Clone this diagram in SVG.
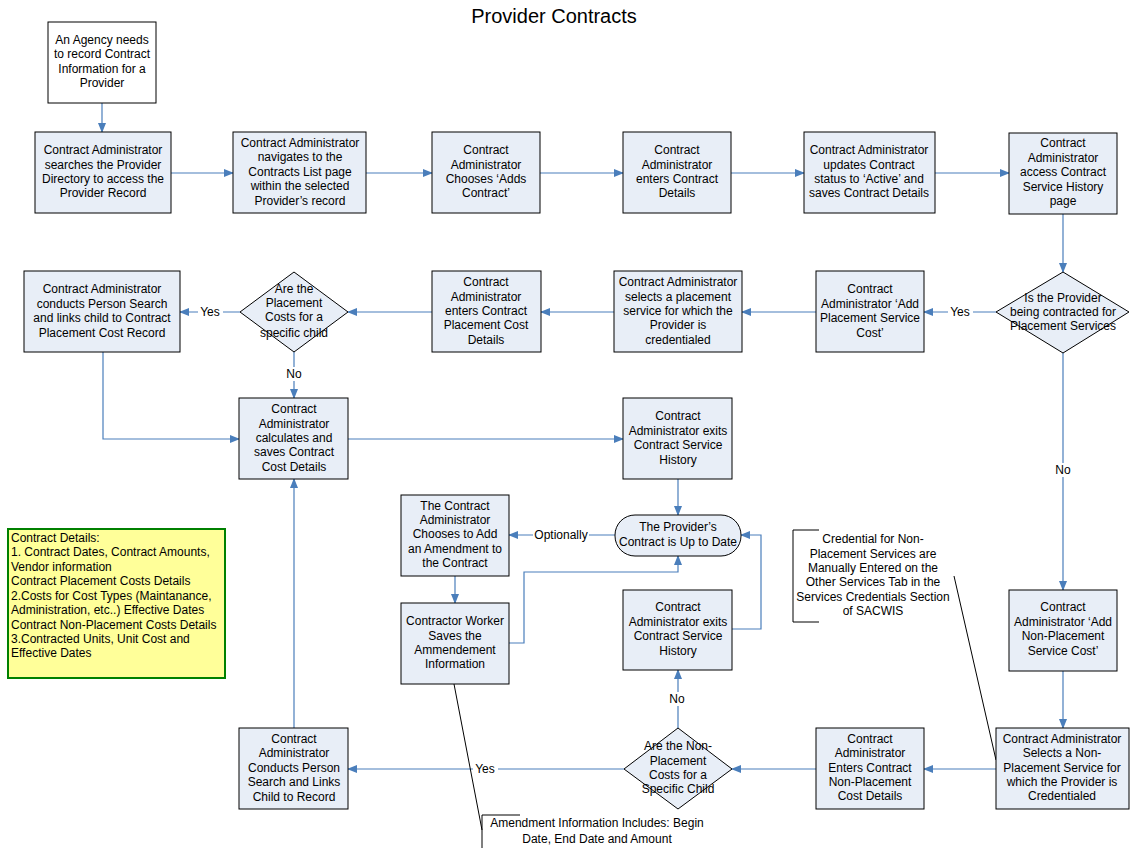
<svg xmlns="http://www.w3.org/2000/svg" width="1130" height="848" viewBox="0 0 1130 848">
  <style>
    .box { fill: #E8EEF7; stroke: #000; stroke-width: 1; }
    .start { fill: #fff; stroke: #000; stroke-width: 1; }
    .t { font-family: "Liberation Sans", Arial, sans-serif; font-size: 12px; fill: #000; text-anchor: middle; }
    .tl { font-family: "Liberation Sans", Arial, sans-serif; font-size: 12px; fill: #000; }
    .title { font-family: "Liberation Sans", Arial, sans-serif; font-size: 20px; fill: #000; text-anchor: middle; }
    .c { fill: none; stroke: #4A7EBB; stroke-width: 1.2; marker-end: url(#arr); }
    .cn { fill: none; stroke: #4A7EBB; stroke-width: 1.2; }
    .note { fill: none; stroke: #000; stroke-width: 1; }
    .lbg { fill: #fff; }
  </style>
  <defs>
    <marker id="arr" markerWidth="10" markerHeight="8" refX="9" refY="4" orient="auto" markerUnits="userSpaceOnUse">
      <path d="M0,0 L10,4 L0,8 Z" fill="#4A7EBB"/>
    </marker>
  </defs>

  <rect width="1130" height="848" fill="#fff"/>
  <text class="title" x="554" y="23">Provider Contracts</text>

  <!-- connectors -->
  <g id="connectors">
    <path class="c" d="M102,103 V132"/>
    <path class="c" d="M171,173 H233"/>
    <path class="c" d="M366,173 H432"/>
    <path class="c" d="M540,173 H623"/>
    <path class="c" d="M731,173 H804"/>
    <path class="c" d="M935,173 H1009"/>
    <path class="c" d="M1063,214 V272"/>
    <path class="c" d="M996,312 H924"/>
    <path class="c" d="M816,312 H742"/>
    <path class="c" d="M614,312 H541"/>
    <path class="c" d="M432,312 H348"/>
    <path class="c" d="M240,312 H180"/>
    <path class="c" d="M294,352 V398"/>
    <path class="c" d="M103,352 V439 H239"/>
    <path class="c" d="M348,439 H623"/>
    <path class="c" d="M678,479 V515"/>
    <path class="c" d="M615,535 H509"/>
    <path class="c" d="M455,576 V603"/>
    <path class="c" d="M509,643 H524 V572 H678 V556"/>
    <path class="c" d="M732,629 H761 V535 H741"/>
    <path class="c" d="M678,728 V670"/>
    <path class="c" d="M624,769 H348"/>
    <path class="c" d="M294,728 V479"/>
    <path class="c" d="M1063,353 V590"/>
    <path class="c" d="M1063,671 V728"/>
    <path class="c" d="M996,769 H924"/>
    <path class="c" d="M816,769 H732"/>

    <!-- connector labels -->
    <rect class="lbg" x="948" y="305" width="25" height="14"/>
    <text class="t" x="960" y="316">Yes</text>
    <rect class="lbg" x="198" y="305" width="25" height="14"/>
    <text class="t" x="210" y="316">Yes</text>
    <rect class="lbg" x="284" y="367" width="20" height="14"/>
    <text class="t" x="294" y="378">No</text>
    <rect class="lbg" x="1053" y="463" width="20" height="14"/>
    <text class="t" x="1063" y="474">No</text>
    <rect class="lbg" x="533" y="528" width="56" height="14"/>
    <text class="t" x="561" y="539">Optionally</text>
    <rect class="lbg" x="667" y="692" width="20" height="14"/>
    <text class="t" x="677" y="703">No</text>
    <rect class="lbg" x="473" y="762" width="25" height="14"/>
    <text class="t" x="485" y="773">Yes</text>
  </g>

  <!-- annotations -->
  <g id="note-credential">
    <path class="note" d="M819,530 H793 V622 H819"/>
    <path class="note" d="M954,576 L996,760"/>
    <text class="t" x="873" y="543">Credential for Non-</text>
    <text class="t" x="873" y="558">Placement Services are</text>
    <text class="t" x="873" y="572">Manually Entered on the</text>
    <text class="t" x="873" y="586">Other Services Tab in the</text>
    <text class="t" x="873" y="601">Services Credentials Section</text>
    <text class="t" x="873" y="615">of SACWIS</text>
  </g>
  <g id="note-amendment">
    <path class="note" d="M520,815 H482 V848"/>
    <path class="note" d="M454,684 L482,830"/>
    <text class="t" x="597" y="827">Amendment Information Includes: Begin</text>
    <text class="t" x="597" y="843">Date, End Date and Amount</text>
  </g>
  <g id="legend">
    <rect x="8" y="529" width="217" height="149" fill="#FFFF99" stroke="#008000" stroke-width="2"/>
    <text class="tl" x="11" y="542">Contract Details:</text>
    <text class="tl" x="11" y="556">1. Contract Dates, Contract Amounts,</text>
    <text class="tl" x="11" y="571">Vendor information</text>
    <text class="tl" x="11" y="585">Contract Placement Costs Details</text>
    <text class="tl" x="11" y="600">2.Costs for Cost Types (Maintanance,</text>
    <text class="tl" x="11" y="614">Administration, etc..) Effective Dates</text>
    <text class="tl" x="11" y="629">Contract Non-Placement Costs Details</text>
    <text class="tl" x="11" y="643">3.Contracted Units, Unit Cost and</text>
    <text class="tl" x="11" y="657">Effective Dates</text>
  </g>

  <!-- nodes -->
  <g id="n-start">
    <rect class="start" x="48" y="22" width="108" height="81"/>
    <text class="t" x="102" y="44">An Agency needs</text>
    <text class="t" x="102" y="58">to record Contract</text>
    <text class="t" x="102" y="73">Information for a</text>
    <text class="t" x="102" y="87">Provider</text>
  </g>
  <g id="n-search-directory">
    <rect class="box" x="35" y="132" width="136" height="81"/>
    <text class="t" x="103" y="154">Contract Administrator</text>
    <text class="t" x="103" y="169">searches the Provider</text>
    <text class="t" x="103" y="183">Directory to access the</text>
    <text class="t" x="103" y="197">Provider Record</text>
  </g>
  <g id="n-contracts-list">
    <rect class="box" x="233" y="132" width="133" height="81"/>
    <text class="t" x="300" y="147">Contract Administrator</text>
    <text class="t" x="300" y="161">navigates to the</text>
    <text class="t" x="300" y="176">Contracts List page</text>
    <text class="t" x="300" y="190">within the selected</text>
    <text class="t" x="300" y="205">Provider’s record</text>
  </g>
  <g id="n-adds-contract">
    <rect class="box" x="432" y="132" width="108" height="81"/>
    <text class="t" x="486" y="154">Contract</text>
    <text class="t" x="486" y="169">Administrator</text>
    <text class="t" x="486" y="183">Chooses ‘Adds</text>
    <text class="t" x="486" y="197">Contract’</text>
  </g>
  <g id="n-enter-details">
    <rect class="box" x="623" y="132" width="108" height="81"/>
    <text class="t" x="677" y="154">Contract</text>
    <text class="t" x="677" y="169">Administrator</text>
    <text class="t" x="677" y="183">enters Contract</text>
    <text class="t" x="677" y="197">Details</text>
  </g>
  <g id="n-activate">
    <rect class="box" x="804" y="132" width="131" height="81"/>
    <text class="t" x="869" y="154">Contract Administrator</text>
    <text class="t" x="869" y="169">updates Contract</text>
    <text class="t" x="869" y="183">status to ‘Active’ and</text>
    <text class="t" x="869" y="197">saves Contract Details</text>
  </g>
  <g id="n-service-history">
    <rect class="box" x="1009" y="133" width="108" height="81"/>
    <text class="t" x="1063" y="147">Contract</text>
    <text class="t" x="1063" y="162">Administrator</text>
    <text class="t" x="1063" y="176">access Contract</text>
    <text class="t" x="1063" y="191">Service History</text>
    <text class="t" x="1063" y="205">page</text>
  </g>
  <g id="n-placement-decision">
    <path class="box" d="M1063,272 L1129,312 L1063,353 L996,312 Z"/>
    <text class="t" x="1063" y="302">Is the Provider</text>
    <text class="t" x="1063" y="316">being contracted for</text>
    <text class="t" x="1063" y="330">Placement Services</text>
  </g>
  <g id="n-add-placement-cost">
    <rect class="box" x="816" y="271" width="108" height="81"/>
    <text class="t" x="870" y="293">Contract</text>
    <text class="t" x="870" y="308">Administrator ‘Add</text>
    <text class="t" x="870" y="322">Placement Service</text>
    <text class="t" x="870" y="337">Cost’</text>
  </g>
  <g id="n-select-placement">
    <rect class="box" x="614" y="271" width="128" height="81"/>
    <text class="t" x="678" y="286">Contract Administrator</text>
    <text class="t" x="678" y="301">selects a placement</text>
    <text class="t" x="678" y="315">service for which the</text>
    <text class="t" x="678" y="329">Provider is</text>
    <text class="t" x="678" y="344">credentialed</text>
  </g>
  <g id="n-placement-cost-details">
    <rect class="box" x="432" y="271" width="109" height="81"/>
    <text class="t" x="486" y="286">Contract</text>
    <text class="t" x="486" y="301">Administrator</text>
    <text class="t" x="486" y="315">enters Contract</text>
    <text class="t" x="486" y="329">Placement Cost</text>
    <text class="t" x="486" y="344">Details</text>
  </g>
  <g id="n-child-decision">
    <path class="box" d="M294,272 L348,312 L294,352 L240,312 Z"/>
    <text class="t" x="294" y="293">Are the</text>
    <text class="t" x="294" y="307">Placement</text>
    <text class="t" x="294" y="321">Costs for a</text>
    <text class="t" x="294" y="337">specific child</text>
  </g>
  <g id="n-link-child">
    <rect class="box" x="24" y="271" width="156" height="81"/>
    <text class="t" x="102" y="293">Contract Administrator</text>
    <text class="t" x="102" y="308">conducts Person Search</text>
    <text class="t" x="102" y="322">and links child to Contract</text>
    <text class="t" x="102" y="337">Placement Cost Record</text>
  </g>
  <g id="n-calculate">
    <rect class="box" x="239" y="398" width="109" height="81"/>
    <text class="t" x="294" y="413">Contract</text>
    <text class="t" x="294" y="428">Administrator</text>
    <text class="t" x="294" y="442">calculates and</text>
    <text class="t" x="294" y="456">saves Contract</text>
    <text class="t" x="294" y="471">Cost Details</text>
  </g>
  <g id="n-exit-history-1">
    <rect class="box" x="623" y="398" width="109" height="81"/>
    <text class="t" x="678" y="420">Contract</text>
    <text class="t" x="678" y="435">Administrator exits</text>
    <text class="t" x="678" y="449">Contract Service</text>
    <text class="t" x="678" y="464">History</text>
  </g>
  <g id="n-up-to-date">
    <rect class="box" x="615" y="515" width="126" height="41" rx="20" ry="20"/>
    <text class="t" x="678" y="531">The Provider’s</text>
    <text class="t" x="678" y="546">Contract is Up to Date</text>
  </g>
  <g id="n-add-amendment">
    <rect class="box" x="401" y="495" width="108" height="81"/>
    <text class="t" x="455" y="510">The Contract</text>
    <text class="t" x="455" y="524">Administrator</text>
    <text class="t" x="455" y="538">Chooses to Add</text>
    <text class="t" x="455" y="553">an Amendment to</text>
    <text class="t" x="455" y="567">the Contract</text>
  </g>
  <g id="n-save-amendment">
    <rect class="box" x="401" y="603" width="108" height="81"/>
    <text class="t" x="455" y="625">Contractor Worker</text>
    <text class="t" x="455" y="640">Saves the</text>
    <text class="t" x="455" y="654">Ammendement</text>
    <text class="t" x="455" y="668">Information</text>
  </g>
  <g id="n-exit-history-2">
    <rect class="box" x="623" y="590" width="109" height="80"/>
    <text class="t" x="678" y="611">Contract</text>
    <text class="t" x="678" y="626">Administrator exits</text>
    <text class="t" x="678" y="640">Contract Service</text>
    <text class="t" x="678" y="655">History</text>
  </g>
  <g id="n-add-nonplacement-cost">
    <rect class="box" x="1009" y="590" width="108" height="81"/>
    <text class="t" x="1063" y="611">Contract</text>
    <text class="t" x="1063" y="626">Administrator ‘Add</text>
    <text class="t" x="1063" y="640">Non-Placement</text>
    <text class="t" x="1063" y="655">Service Cost’</text>
  </g>
  <g id="n-select-nonplacement">
    <rect class="box" x="996" y="728" width="133" height="81"/>
    <text class="t" x="1062" y="743">Contract Administrator</text>
    <text class="t" x="1062" y="757">Selects a Non-</text>
    <text class="t" x="1062" y="772">Placement Service for</text>
    <text class="t" x="1062" y="786">which the Provider is</text>
    <text class="t" x="1062" y="800">Credentialed</text>
  </g>
  <g id="n-nonplacement-cost-details">
    <rect class="box" x="816" y="728" width="108" height="81"/>
    <text class="t" x="870" y="743">Contract</text>
    <text class="t" x="870" y="757">Administrator</text>
    <text class="t" x="870" y="772">Enters Contract</text>
    <text class="t" x="870" y="786">Non-Placement</text>
    <text class="t" x="870" y="800">Cost Details</text>
  </g>
  <g id="n-nonplacement-decision">
    <path class="box" d="M678,728 L732,769 L678,809 L624,769 Z"/>
    <text class="t" x="678" y="750">Are the Non-</text>
    <text class="t" x="678" y="765">Placement</text>
    <text class="t" x="678" y="779">Costs for a</text>
    <text class="t" x="678" y="793">Specific Child</text>
  </g>
  <g id="n-link-child-record">
    <rect class="box" x="239" y="728" width="109" height="81"/>
    <text class="t" x="294" y="743">Contract</text>
    <text class="t" x="294" y="757">Administrator</text>
    <text class="t" x="294" y="772">Conducts Person</text>
    <text class="t" x="294" y="786">Search and Links</text>
    <text class="t" x="294" y="801">Child to Record</text>
  </g>
</svg>
